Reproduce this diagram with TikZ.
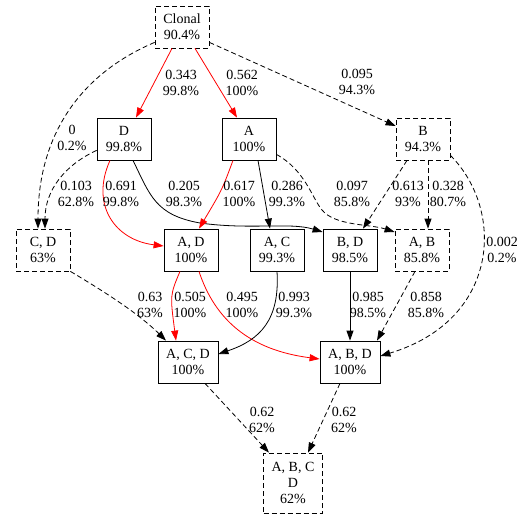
\documentclass[tikz,border=0pt]{standalone}
\usepackage{fontspec}
\setmainfont{Liberation Serif}
\usetikzlibrary{arrows.meta}
\begin{document}
\begin{tikzpicture}[x=1pt,y=-1pt,
  box/.style={draw,line width=0.8pt,minimum width=54pt,minimum height=42pt,inner sep=1pt,align=center,font=\fontsize{14}{16}\selectfont},
  dbox/.style={box,dash pattern=on 5pt off 3pt},
  lab/.style={align=center,inner sep=0pt,font=\fontsize{14}{16}\selectfont},
  e/.style={line width=0.8pt,-{Triangle[length=10pt,width=7pt]}},
  de/.style={e,dash pattern=on 5pt off 3pt},
  re/.style={e,red}]
\useasboundingbox (0,0) rectangle (529,516);
% nodes
\node[dbox] (Clonal) at (182,27) {Clonal\\90.4\%};
\node[box] (D) at (124,139) {D\\99.8\%};
\node[box] (A) at (249,139) {A\\100\%};
\node[dbox] (B) at (423,139) {B\\94.3\%};
\node[dbox] (CD) at (43,250) {C, D\\63\%};
\node[box] (AD) at (191,250) {A, D\\100\%};
\node[box] (AC) at (277,250) {A, C\\99.3\%};
\node[box] (BD) at (350,250) {B, D\\98.5\%};
\node[dbox] (AB) at (422,250) {A, B\\85.8\%};
\node[box,minimum width=60pt] (ACD) at (188,362) {A, C, D\\100\%};
\node[box,minimum width=60pt] (ABD) at (350,362) {A, B, D\\100\%};
\node[dbox,minimum width=59pt,minimum height=60pt] (ABCD) at (293,483) {A, B, C\\D\\62\%};
\coordinate (bend1) at (200,223);
\coordinate (bend2) at (322,210);
% edges
\draw[re] ([xshift=-10pt]Clonal.south) -- ([xshift=12pt]D.north);
\draw[re] ([xshift=13pt]Clonal.south) -- ([xshift=-12pt]A.north);
\draw[de] ([yshift=6pt]Clonal.south east) -- ([yshift=13pt]B.west);
\draw[de] ([yshift=6pt]Clonal.south west) .. controls (85,72) and (38,130) .. ([xshift=-5pt]CD.north);
\draw[de] ([yshift=10pt]D.south west) .. controls (65,165) and (45,190) .. ([xshift=2pt]CD.north);
\draw[re] ([xshift=-14pt]D.south) .. controls (90,205) and (115,240) .. ([yshift=4pt]AD.west);
\draw[e] ([xshift=9pt]D.south) .. controls (150,195) and (155,215) .. (bend1) .. controls (250,230) and (290,222) .. ([yshift=18pt]BD.west);
\draw[re] ([xshift=-16pt]A.south) .. controls (222,190) .. ([xshift=8pt]AD.north);
\draw[e] ([xshift=9pt]A.south) -- ([xshift=-7pt]AC.north);
\draw[de] ([yshift=6pt]A.south east) .. controls (305,170) and (312,198) .. (bend2) .. controls (335,226) and (370,224) .. ([yshift=18pt]AB.west);
\draw[de] ([xshift=-16pt]B.south) -- ([xshift=13pt]BD.north);
\draw[de] ([xshift=5pt]B.south) -- ([xshift=6pt]AB.north);
\draw[de] ([yshift=5pt]B.south east) .. controls (505,210) and (500,320) .. ([yshift=6pt]ABD.east);
\draw[de] (CD.south east) .. controls (110,295) and (140,315) .. ([xshift=-22pt]ACD.north);
\draw[re] ([xshift=-11pt]AD.south) .. controls (170,295) .. ([xshift=-12pt]ACD.north);
\draw[re] ([xshift=8pt]AD.south) .. controls (215,320) and (250,350) .. ([yshift=3pt]ABD.west);
\draw[e] (AC.south) .. controls (280,320) and (260,340) .. ([yshift=8pt]ACD.east);
\draw[e] (BD.south) -- (ABD.north);
\draw[de] ([xshift=-7pt]AB.south) -- ([xshift=27pt]ABD.north);
\draw[de] ([xshift=17pt]ACD.south) -- ([xshift=-24pt]ABCD.north);
\draw[de] ([xshift=-10pt]ABD.south) -- ([xshift=15pt]ABCD.north);
% labels
\node[lab] (l1) at (181,83) {0.343\\99.8\%};
\node[lab] (l2) at (242,83) {0.562\\100\%};
\node[lab] (l3) at (357,82) {0.095\\94.3\%};
\node[lab] (l4) at (72,138) {0\\0.2\%};
\node[lab] (l5) at (76,194) {0.103\\62.8\%};
\node[lab] (l6) at (121,194) {0.691\\99.8\%};
\node[lab] (l7) at (184,194) {0.205\\98.3\%};
\node[lab] (l8) at (239,194) {0.617\\100\%};
\node[lab] (l9) at (287,194) {0.286\\99.3\%};
\node[lab] (l10) at (352,194) {0.097\\85.8\%};
\node[lab] (l11) at (408,194) {0.613\\93\%};
\node[lab] (l12) at (448,194) {0.328\\80.7\%};
\node[lab] (l13) at (502,250) {0.002\\0.2\%};
\node[lab] (l14) at (150,305) {0.63\\63\%};
\node[lab] (l15) at (190,305) {0.505\\100\%};
\node[lab] (l16) at (242,305) {0.495\\100\%};
\node[lab] (l17) at (294,305) {0.993\\99.3\%};
\node[lab] (l18) at (368,305) {0.985\\98.5\%};
\node[lab] (l19) at (426,305) {0.858\\85.8\%};
\node[lab] (l20) at (262,420) {0.62\\62\%};
\node[lab] (l21) at (344,420) {0.62\\62\%};
\end{tikzpicture}
\end{document}
